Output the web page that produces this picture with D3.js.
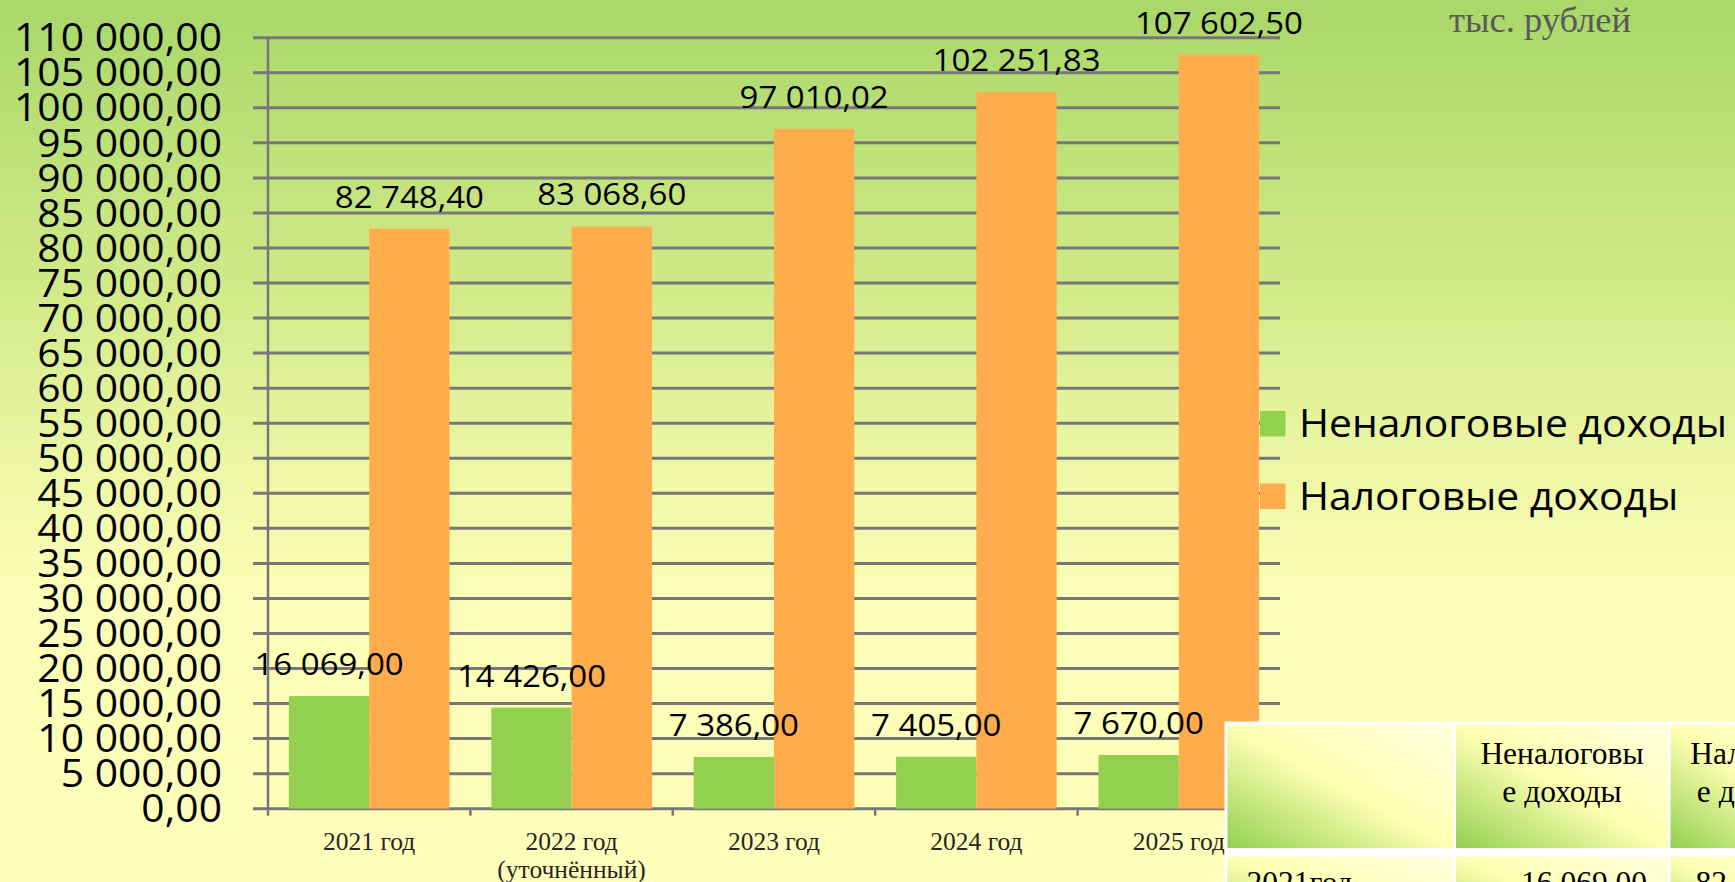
<!DOCTYPE html>
<html lang="ru">
<head>
<meta charset="utf-8">
<title>Налоговые и неналоговые доходы</title>
<script src="https://cdn.jsdelivr.net/npm/d3@7"></script>
<style>
  html, body { margin: 0; padding: 0; overflow: hidden; }
  svg { display: block; }
</style>
</head>
<body>
<div id="chart"></div>
<script>
// Data
const categories = [["2021 год"], ["2022 год", "(уточнённый)"], ["2023 год"], ["2024 год"], ["2025 год"]];
const seriesNames = ["Неналоговые доходы", "Налоговые доходы"];
const nonTaxIncome = [16069.0, 14426.0, 7386.0, 7405.0, 7670.0];
const taxIncome = [82748.4, 83068.6, 97010.02, 102251.83, 107602.5];
const yTicks = d3.range(0, 110001, 5000);
const unitLabel = "тыс. рублей";
const tableHeader = [[""], ["Неналоговы", "е доходы"], ["Налоговы", "е доходы"]];
const tableRowLabels = ["2021год"];

const colors = ["#92d050", "#ffac4d"];

const ru = d3.formatLocale({ decimal: ",", thousands: " ", grouping: [3], currency: ["", ""] });
const fmt = ru.format(",.2f");

const W = 1735, H = 882;
const margin = { top: 37.7, left: 268, right: 1280, bottom: 808.7 };

const svg = d3.select("#chart").append("svg")
  .attr("width", W)
  .attr("height", H)
  .attr("viewBox", [0, 0, W, H]);

const defs = svg.append("defs");

// Background gradient
const bg = defs.append("linearGradient")
  .attr("id", "bgGrad")
  .attr("x1", 0).attr("y1", 0).attr("x2", 0).attr("y2", 1);
[[0, "#a9d769"], [0.33, "#d2ea89"], [0.52, "#ecf6a3"], [0.66, "#fcfdb6"], [1, "#ffffbb"]]
  .forEach(([o, c]) => bg.append("stop").attr("offset", o).attr("stop-color", c));

// Table cell gradient
const cg = defs.append("linearGradient")
  .attr("id", "cellGrad")
  .attr("x1", 0).attr("y1", 1).attr("x2", 1).attr("y2", 0);
[[0, "#92d050"], [0.5, "#ffffb3"], [1, "#ffffe0"]]
  .forEach(([o, c]) => cg.append("stop").attr("offset", o).attr("stop-color", c));

svg.append("rect").attr("width", W).attr("height", H).attr("fill", "url(#bgGrad)");

// The original labels are drawn wider than the fonts we have, so stretch them:
// the widest label of a group is fitted to the width it has in the picture
function fitWidth(sel, widest) {
  let ref = 0;
  sel.each(function () { ref = Math.max(ref, this.getComputedTextLength()); });
  const k = widest / ref;
  sel.each(function () {
    const w = this.getComputedTextLength();
    d3.select(this).attr("textLength", w * k).attr("lengthAdjust", "spacingAndGlyphs");
  });
}

// Scales
const x0 = d3.scaleBand()
  .domain(d3.range(categories.length))
  .range([margin.left, margin.right]);

const x1 = d3.scaleBand()
  .domain(seriesNames)
  .range([0, x0.bandwidth()])
  .paddingOuter(0.26);

const y = d3.scaleLinear()
  .domain([0, 110000])
  .range([margin.bottom, margin.top]);

const gridColor = "#777777";

// Gridlines (they stick out to the left of the axis as ticks)
svg.append("g")
  .selectAll("line")
  .data(yTicks)
  .join("line")
  .attr("x1", margin.left - 15)
  .attr("x2", margin.right)
  .attr("y1", d => y(d))
  .attr("y2", d => y(d))
  .attr("stroke", gridColor)
  .attr("stroke-width", 3);

// Y axis line
svg.append("line")
  .attr("x1", margin.left).attr("x2", margin.left)
  .attr("y1", y(110000)).attr("y2", y(0))
  .attr("stroke", gridColor)
  .attr("stroke-width", 2.5);

// Category ticks
svg.append("g")
  .selectAll("line")
  .data(d3.range(categories.length + 1))
  .join("line")
  .attr("x1", i => margin.left + i * x0.step())
  .attr("x2", i => margin.left + i * x0.step())
  .attr("y1", y(0))
  .attr("y2", y(0) + 7)
  .attr("stroke", gridColor)
  .attr("stroke-width", 2.5);

// Y tick labels
svg.append("g")
  .selectAll("text")
  .data(yTicks)
  .join("text")
  .attr("x", 222)
  .attr("y", d => y(d) + 13.7)
  .attr("text-anchor", "end")
  .style("font-family", "'Open Sans', sans-serif")
  .style("font-size", "38.5px")
  .attr("fill", "#000")
  .text(d => fmt(d))
  .call(fitWidth, 208);

// Bars
const rows = categories.map((c, i) => ({ i, values: [nonTaxIncome[i], taxIncome[i]] }));

const groups = svg.append("g")
  .selectAll("g")
  .data(rows)
  .join("g")
  .attr("transform", d => `translate(${x0(d.i)},0)`);

groups.selectAll("rect")
  .data(d => d.values.map((v, k) => ({ v, k })))
  .join("rect")
  .attr("x", d => x1(seriesNames[d.k]))
  .attr("y", d => y(d.v))
  .attr("width", x1.bandwidth())
  .attr("height", d => y(0) - y(d.v))
  .attr("fill", d => colors[d.k]);

// Value labels
const valueLabels = groups.selectAll("text")
  .data(d => d.values.map((v, k) => ({ v, k })))
  .join("text")
  .attr("x", d => x1(seriesNames[d.k]) + x1.bandwidth() / 2)
  .attr("y", d => y(d.v) - 21)
  .attr("text-anchor", "middle")
  .style("font-family", "'Open Sans', sans-serif")
  .style("font-size", "31px")
  .attr("fill", "#000")
  .text(d => fmt(d.v));
valueLabels.call(fitWidth, 168);

// X labels
svg.append("g")
  .selectAll("text")
  .data(categories)
  .join("text")
  .attr("x", (d, i) => x0(i) + x0.bandwidth() / 2)
  .attr("y", 849.5)
  .attr("text-anchor", "middle")
  .style("font-family", "'Liberation Serif', 'Times New Roman', serif")
  .style("font-size", "25.5px")
  .attr("fill", "#262626")
  .selectAll("tspan")
  .data(d => d)
  .join("tspan")
  .attr("x", function () { return d3.select(this.parentNode).attr("x"); })
  .attr("dy", (d, j) => (j === 0 ? 0 : 28.5))
  .text(d => d);

// Unit label
svg.append("text")
  .attr("x", 1449)
  .attr("y", 32)
  .style("font-family", "'Liberation Serif', 'Times New Roman', serif")
  .style("font-size", "36.5px")
  .attr("fill", "#595959")
  .text(unitLabel);

// Legend
const legend = svg.append("g").attr("transform", "translate(1260, 411)");

const legendRows = legend.selectAll("g")
  .data(seriesNames)
  .join("g")
  .attr("transform", (d, i) => `translate(0, ${i * 72.5})`);

legendRows.append("rect")
  .attr("width", 25.5)
  .attr("height", 25.5)
  .attr("fill", (d, i) => colors[i]);

legendRows.append("text")
  .attr("x", 39)
  .attr("y", 26)
  .style("font-family", "'Open Sans', sans-serif")
  .style("font-size", "39px")
  .attr("fill", "#000")
  .text(d => d)
  .call(fitWidth, 428);

// Table (bottom right, partly outside the picture)
const colW = [226, 212, 172];
const colX = [1227.5];
colW.slice(0, -1).forEach((w, i) => colX.push(colX[i] + w + 2.5));
const headTop = 725, headH = 123, bodyTop = 856.7, bodyH = 90;

const table = svg.append("g");

table.append("rect")
  .attr("x", 1224.5)
  .attr("y", 721.5)
  .attr("width", 700)
  .attr("height", 400)
  .attr("fill", "#ffffff");

colW.forEach((w, i) => {
  table.append("rect")
    .attr("x", colX[i]).attr("y", headTop)
    .attr("width", w).attr("height", headH)
    .attr("fill", "url(#cellGrad)");
  table.append("rect")
    .attr("x", colX[i]).attr("y", bodyTop)
    .attr("width", w).attr("height", bodyH)
    .attr("fill", "url(#cellGrad)");

  const t = table.append("text")
    .attr("text-anchor", "middle")
    .style("font-family", "'Liberation Serif', 'Times New Roman', serif")
    .style("font-size", "31.5px")
    .attr("fill", "#000");
  tableHeader[i].forEach((line, j) => {
    t.append("tspan")
      .attr("x", colX[i] + w / 2)
      .attr("y", 764.3 + j * 38)
      .text(line);
  });
});

const firstRow = [tableRowLabels[0], fmt(nonTaxIncome[0]), fmt(taxIncome[0])];
firstRow.forEach((v, i) => {
  table.append("text")
    .attr("x", i === 0 ? colX[0] + 19 : colX[i] + colW[i] - 21)
    .attr("y", 892.5)
    .attr("text-anchor", i === 0 ? "start" : "end")
    .style("font-family", "'Liberation Serif', 'Times New Roman', serif")
    .style("font-size", "31.5px")
    .attr("fill", "#000")
    .text(v);
});
</script>
</body>
</html>
